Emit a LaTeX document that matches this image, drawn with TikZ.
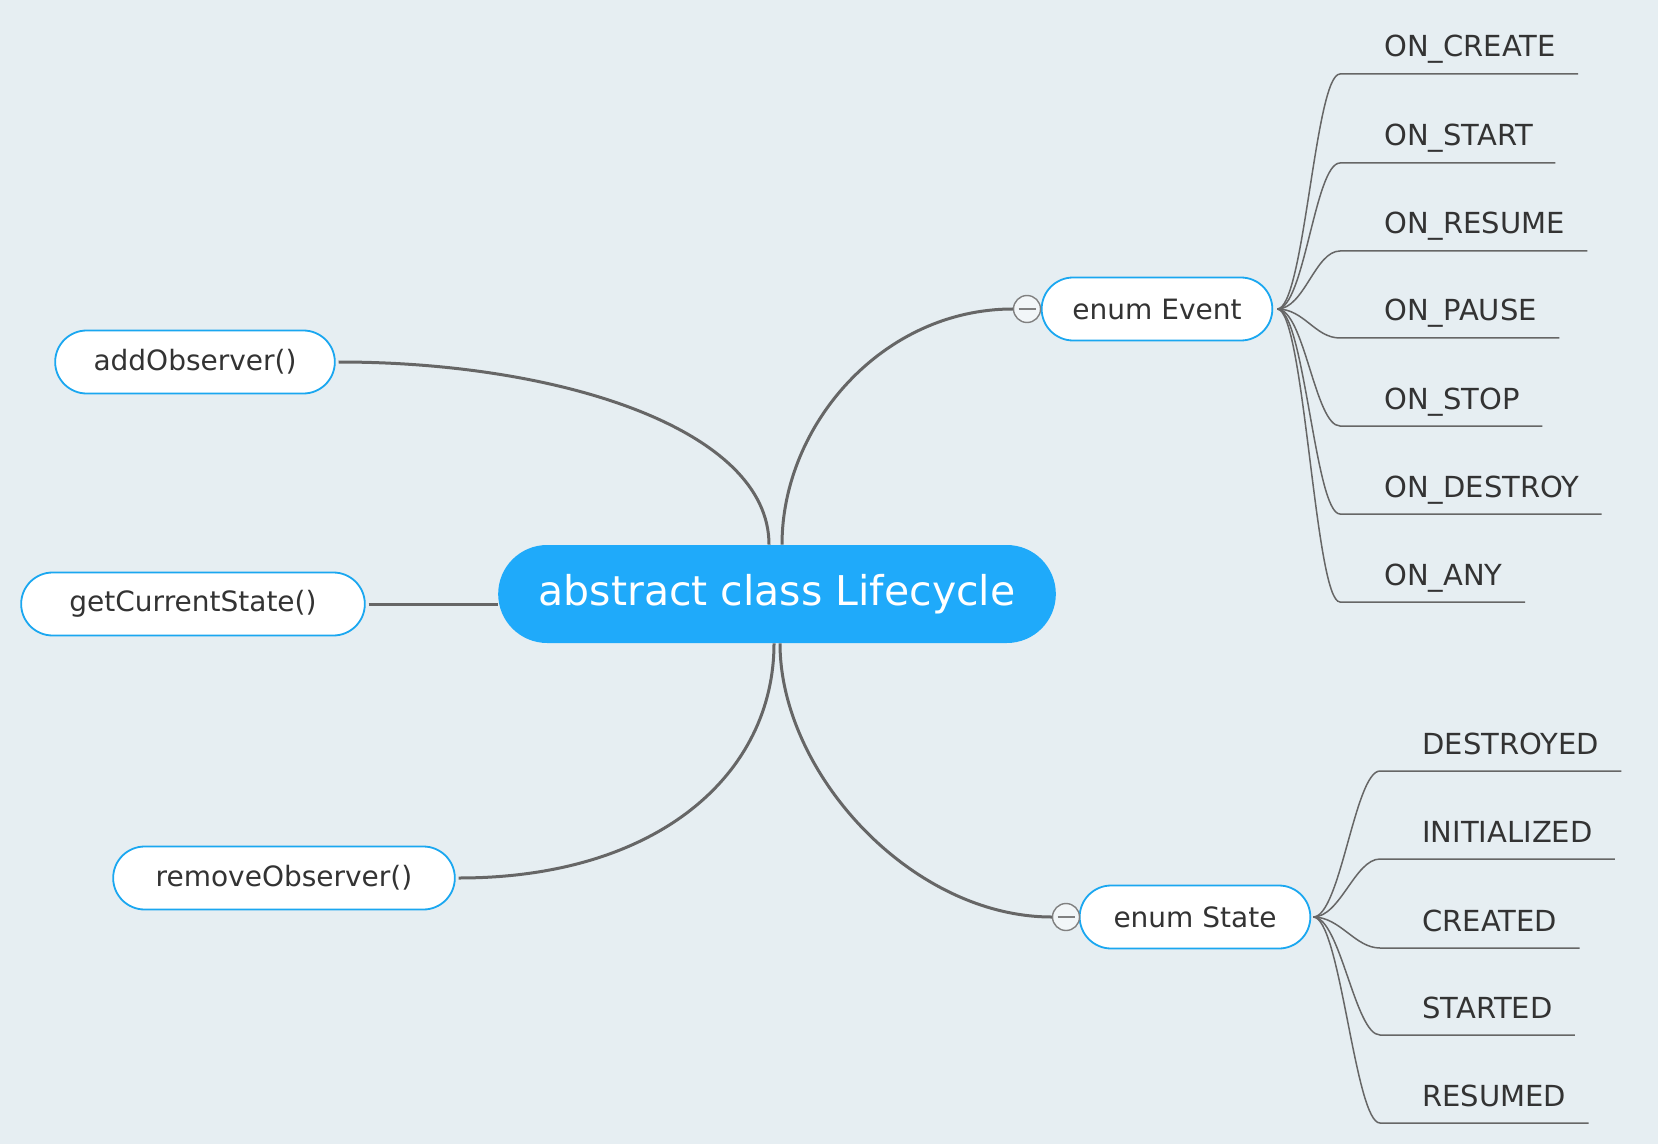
\documentclass[tikz,border=0pt]{standalone}
\usepackage{fontspec}
\setmainfont{DejaVu Sans}
\usepackage{tikz}
\usetikzlibrary{shapes.misc}

\definecolor{canvas}{RGB}{230,238,242}
\definecolor{rootblue}{RGB}{31,170,250}
\definecolor{edgeblue}{RGB}{26,167,240}
\definecolor{wire}{RGB}{102,102,102}
\definecolor{ink}{RGB}{51,51,51}

\begin{document}
\begin{tikzpicture}[x=0.5pt, y=-0.5pt,
                root/.style={rounded rectangle, fill=rootblue, text=white, minimum
                        width=285.5pt, minimum height=49pt, font=\fontsize{20.5}{24}\selectfont},
                topic/.style={rounded rectangle, draw=edgeblue, line width=0.9pt, fill=white,
                        text=ink, minimum height=31.5pt, font=\fontsize{14}{17}\selectfont},
                fold/.style={circle, draw=gray, fill=canvas!50!white, line width=0.7pt,
                        minimum size=13.5pt, inner sep=0pt,
                        path picture={\draw[gray, line width=0.7pt] ([xshift=2.5pt]path picture bounding box.west) -- ([xshift=-2.5pt]path picture bounding box.east);}},
                leaf/.style={anchor=base west, inner sep=0pt, text=ink, font=\fontsize{14.5}{17}\selectfont},
                link/.style={draw=wire, line width=1.5pt},
                twig/.style={draw=wire, line width=0.75pt},
            ]

            \fill[canvas] (0,0) rectangle (1658,1144);
            \useasboundingbox (0,0) rectangle (1658,1144);

            \node[root] (life) at (777,594) {abstract class Lifecycle};
            \node[topic, minimum width=122pt] (event) at (1157,309) {enum Event};
            \node[topic, minimum width=122pt] (state) at (1195,917) {enum State};
            \node[topic, minimum width=146.5pt] (add) at (195,362) {addObserver()};
            \node[topic, minimum width=178.5pt] (get) at (193,604) {getCurrentState()};
            \node[topic, minimum width=177.5pt] (remove) at (284,878) {removeObserver()};
            \node[fold] (event_fold) at (1027,309) {};
            \node[fold] (state_fold) at (1066,917) {};

            \draw[link] ([xshift=1.5pt]add.east) .. controls +(222,0) and +(0,-115) .. ([xshift=-4pt]life.north);
            \draw[link] ([xshift=1.5pt]get.east) -- (get.east -| life.west);
            \draw[link] ([xshift=1.5pt]remove.east) .. controls +(200,0) and +(0,130) .. ([xshift=-1.5pt]life.south);
            \draw[link] ([xshift=2.5pt]life.north) .. controls +(0,-120) and +(-130,0) .. (event_fold.west);
            \draw[link] ([xshift=1.5pt]life.south) .. controls +(0,130) and +(-140,0) .. (state_fold.west);

            % event values
            \foreach \nm/\txt/\yy in {onCreate/ON\_CREATE/74, onStart/ON\_START/163,
                    onResume/ON\_RESUME/251, onPause/ON\_PAUSE/338, onStop/ON\_STOP/426,
                    onDestroy/ON\_DESTROY/514, onAny/ON\_ANY/602} {
                \coordinate (\nm-in) at (1340,\yy);
                \node[leaf] (\nm) at ([shift={(22pt,8.5pt)}]\nm-in) {\txt};
                \draw[twig] ([xshift=2pt]event.east) .. controls +(27,0) and +(-25,0) .. (\nm-in) -- (\nm-in -| \nm.east) -- ++(22,0);
            }

            % state values
            \foreach \nm/\txt/\yy in {destroyed/DESTROYED/771, initialized/INITIALIZED/859,
                    created/CREATED/948, started/STARTED/1035, resumed/RESUMED/1123} {
                \coordinate (\nm-in) at (1380,\yy);
                \node[leaf] (\nm) at ([shift={(21pt,8.5pt)}]\nm-in) {\txt};
                \draw[twig] ([xshift=1pt]state.east) .. controls +(27,0) and +(-25,0) .. (\nm-in) -- (\nm-in -| \nm.east) -- ++(22,0);
            }
        \end{tikzpicture}
\end{document}
